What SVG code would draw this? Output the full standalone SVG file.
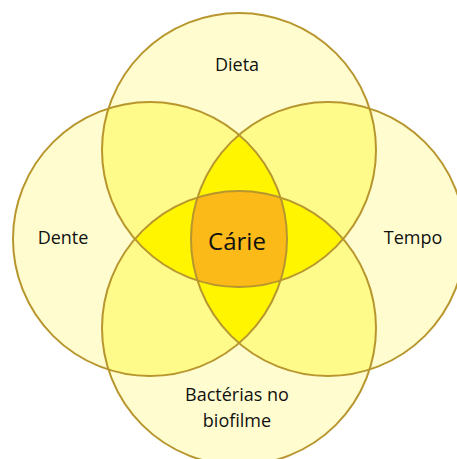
<svg xmlns="http://www.w3.org/2000/svg" width="457" height="459" viewBox="0 0 457 459">
  <style>
    .c1 { fill: #FFFDD0; }
    .c2 { fill: #FFFB8A; }
    .c3 { fill: #FFF500; }
    .c4 { fill: #FBBA17; }
    .ring { fill: none; stroke: #B8962E; stroke-width: 2; }
    .lbl { font-family: "Open Sans", "Liberation Sans", sans-serif; font-size: 18px; fill: #111111; text-anchor: middle; }
    .big { font-size: 24px; }
  </style>
  <defs>
    <circle id="cT" cx="239" cy="150" r="137"/>
    <circle id="cB" cx="239" cy="328" r="137"/>
    <circle id="cL" cx="150" cy="239" r="137"/>
    <circle id="cR" cx="328" cy="239" r="137"/>
    <clipPath id="clipT"><use href="#cT"/></clipPath>
    <clipPath id="clipB"><use href="#cB"/></clipPath>
    <clipPath id="clipL"><use href="#cL"/></clipPath>
    <clipPath id="clipR"><use href="#cR"/></clipPath>
  </defs>
  <rect width="457" height="459" fill="#FFFFFF"/>
  <g id="fills">
    <use href="#cT" class="c1"/>
    <use href="#cB" class="c1"/>
    <use href="#cL" class="c1"/>
    <use href="#cR" class="c1"/>
    <use href="#cT" class="c2" clip-path="url(#clipL)"/>
    <use href="#cT" class="c2" clip-path="url(#clipR)"/>
    <use href="#cB" class="c2" clip-path="url(#clipL)"/>
    <use href="#cB" class="c2" clip-path="url(#clipR)"/>
    <use href="#cT" class="c3" clip-path="url(#clipB)"/>
    <use href="#cL" class="c3" clip-path="url(#clipR)"/>
    <g clip-path="url(#clipT)">
      <g clip-path="url(#clipB)">
        <use href="#cL" class="c4" clip-path="url(#clipR)"/>
      </g>
    </g>
  </g>
  <g id="node-dieta">
    <use href="#cT" class="ring"/>
    <text class="lbl" x="237" y="71">Dieta</text>
  </g>
  <g id="node-dente">
    <use href="#cL" class="ring"/>
    <text class="lbl" x="63" y="244">Dente</text>
  </g>
  <g id="node-tempo">
    <use href="#cR" class="ring"/>
    <text class="lbl" x="413" y="244">Tempo</text>
  </g>
  <g id="node-bacterias">
    <use href="#cB" class="ring"/>
    <text class="lbl" x="237" y="401">Bactérias no</text>
    <text class="lbl" x="237" y="427">biofilme</text>
  </g>
  <g id="node-carie">
    <text class="lbl big" x="237" y="250">Cárie</text>
  </g>
</svg>
